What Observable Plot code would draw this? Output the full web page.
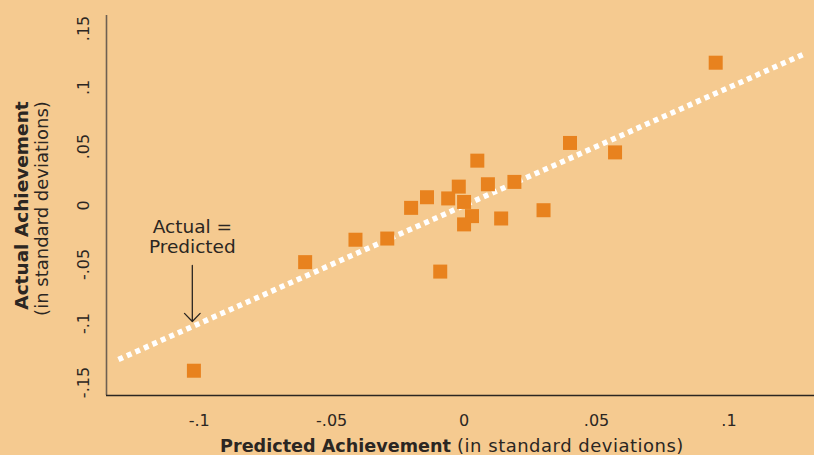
<!DOCTYPE html>
<html><head><meta charset="utf-8">
<script src="https://cdn.jsdelivr.net/npm/d3@7"></script>
<script src="https://cdn.jsdelivr.net/npm/@observablehq/plot@0.6"></script>
<style>
html,body{margin:0;padding:0;background:#f5ca90;}
#chart{width:814px;height:455px;overflow:hidden;}
</style></head><body><div id="chart"></div>
<script>
// Data
const predicted = [0.095, 0.040, 0.057, 0.005, -0.002, 0.009, 0.019, -0.014, -0.006, 0.000,
                   -0.020, 0.003, 0.000, 0.014, 0.030, -0.041, -0.029, -0.060, -0.009, -0.102];
const actual    = [0.121, 0.053, 0.045, 0.038, 0.016, 0.018, 0.020, 0.007, 0.006, 0.003,
                   -0.002, -0.009, -0.016, -0.011, -0.004, -0.029, -0.028, -0.048, -0.056, -0.140];
const xTicks = [-0.1, -0.05, 0, 0.05, 0.1];
const xTickLabels = ["-.1", "-.05", "0", ".05", ".1"];
const yTicks = [-0.15, -0.1, -0.05, 0, 0.05, 0.1, 0.15];
const yTickLabels = ["-.15", "-.1", "-.05", "0", ".05", ".1", ".15"];
const xDomain = [-0.1350, 0.1323];
const yDomain = [-0.161, 0.161];
const diagonalEnds = [-0.1305, 0.129];
const annotationLabel = "Actual =\nPredicted";
const annotationAt = {x: -0.1026, y: -0.0263};
const arrowSpec = {x: -0.1026, from: -0.0508, to: -0.0983};
const yTitleBold = "Actual Achievement";
const yTitleRegular = "(in standard deviations)";
const xTitleBold = "Predicted Achievement";
const xTitleRegular = " (in standard deviations)";

const points = predicted.map((p, i) => ({predicted: p, actual: actual[i]}));
const fontFamily = "'DejaVu Sans', sans-serif";
const ink = "#2b2622";

const plot = Plot.plot({
  width: 814, height: 455,
  marginLeft: 106, marginRight: 0, marginTop: 15, marginBottom: 60,
  style: {background: "transparent", fontFamily, fontSize: "16px", color: ink},
  x: {domain: xDomain, label: null},
  y: {domain: yDomain, label: null},
  marks: [
    Plot.ruleX([xDomain[0]], {stroke: "#6e6052", strokeWidth: 1.6}),
    Plot.ruleY([yDomain[0]], {stroke: ink, strokeWidth: 1.6}),
    Plot.axisX({ticks: xTicks, tickFormat: d => xTickLabels[xTicks.indexOf(d)], tickSize: 0, tickPadding: 19, fontSize: 16, fill: ink, letterSpacing: 0.3}),
    Plot.axisY({ticks: yTicks, tickFormat: d => yTickLabels[yTicks.indexOf(d)], tickSize: 0, tickPadding: 18, tickRotate: -90, fontSize: 16, fill: ink, letterSpacing: 0.3}),
    Plot.link([diagonalEnds], {x1: d => d[0], y1: d => d[0], x2: d => d[1], y2: d => d[1], stroke: "#ffffff", strokeWidth: 5.5, strokeDasharray: "5 4.3", strokeLinecap: "butt"}),
    Plot.dot(points, {x: "predicted", y: "actual", symbol: "square", r: 7.9, fill: "#e8821e"}),
    Plot.text([annotationLabel], {x: () => annotationAt.x, y: () => annotationAt.y, text: d => d, fontSize: 18.5, lineHeight: 1.1, fill: ink, textAnchor: "middle", letterSpacing: 0.6}),
    Plot.arrow([arrowSpec], {x1: "x", x2: "x", y1: "from", y2: "to", stroke: ink, strokeWidth: 1.3, headAngle: 88, headLength: 13}),
    Plot.text([yTitleBold], {frameAnchor: "left", text: d => d, rotate: -90, textAnchor: "middle", dx: -84, dy: 0, fontSize: 18.5, fontWeight: "bold", fill: ink}),
    Plot.text([yTitleRegular], {frameAnchor: "left", text: d => d, rotate: -90, textAnchor: "middle", dx: -64, dy: 3, fontSize: 18, fill: ink, letterSpacing: 0.5})
  ]
});

const svg = d3.select(plot);
const t = svg.append("text")
  .attr("x", 452).attr("y", 452)
  .attr("text-anchor", "middle")
  .attr("font-family", fontFamily)
  .attr("font-size", 17.6)
  .attr("fill", ink);
t.append("tspan").attr("font-weight", "bold").text(xTitleBold);
t.append("tspan").attr("font-size", 18).attr("letter-spacing", 0.5).text(xTitleRegular);

document.getElementById("chart").appendChild(plot);
</script></body></html>
